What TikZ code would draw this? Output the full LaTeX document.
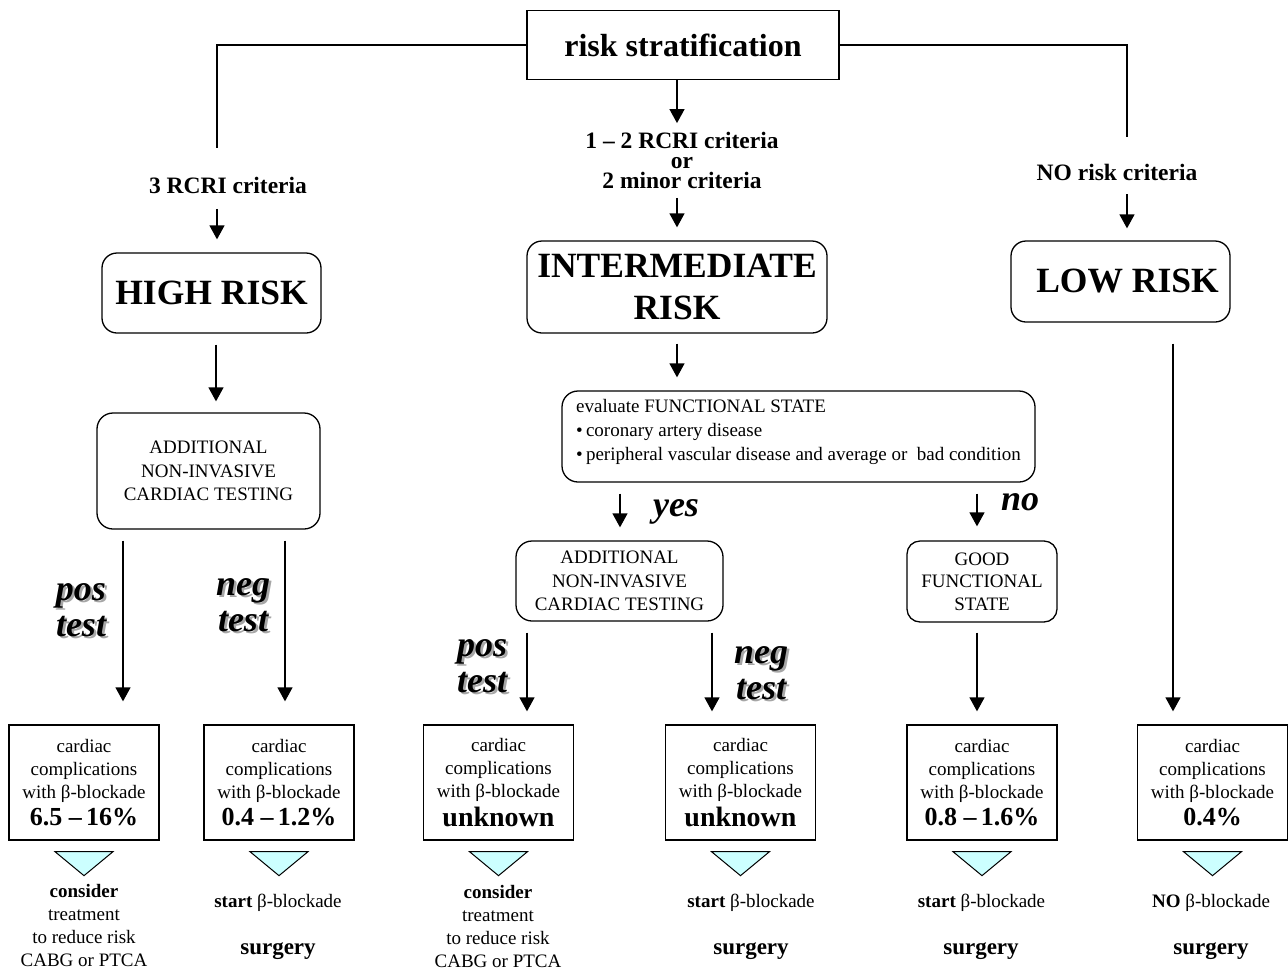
\documentclass[tikz,border=0pt]{standalone}
\usepackage{fontspec}
\setmainfont{Liberation Serif}
\usepackage{tikz}
\usetikzlibrary{arrows.meta,positioning}
\definecolor{tricyan}{HTML}{CCFFFF}

\newcommand{\shtxt}[1]{\leavevmode\rlap{\kern2.5pt\raisebox{-2.5pt}{\textcolor{black!35}{#1}}}#1}
\newcommand{\compl}[1]{cardiac\\complications\\with β-blockade\\[4pt]{\fontsize{26}{28}\selectfont\bfseries #1}}

\begin{document}
\begin{tikzpicture}[x=1pt, y=-1pt, line width=1.3pt,
	txt/.style={font=\fontsize{19}{23}\selectfont, align=center, inner sep=0pt},
	crit/.style={font=\fontsize{23.5}{20}\selectfont\bfseries, align=center, inner sep=0pt},
	big/.style={draw, rounded corners=15pt, font=\fontsize{35.5}{42}\selectfont\bfseries, align=center},
	rbox/.style={draw, rounded corners=16pt, font=\fontsize{19}{23.5}\selectfont, align=center},
	res/.style={draw, minimum width=150pt, minimum height=115pt, font=\fontsize{19}{23}\selectfont, align=center, inner sep=0pt},
	lbl/.style={font=\fontsize{36}{36}\selectfont\bfseries\itshape, align=center, inner sep=0pt},
	surg/.style={font=\fontsize{23}{23}\selectfont\bfseries, inner sep=0pt},
	arr/.style={-{Triangle[width=15pt,length=14pt]}},
	tri/.style={draw, line width=1pt, fill=tricyan}]
	\useasboundingbox (0,0) rectangle (1288,970);

	\node[draw, minimum width=312pt, minimum height=69pt, font=\fontsize{32}{32}\selectfont\bfseries] (strat) at (683,45) {risk stratification};
	\coordinate (lend) at (217,148);
	\coordinate (rend) at (1127,137);
	\draw (strat.west) -| (lend);
	\draw (strat.east) -| (rend);

	\node[crit] (c3) at (228,185) {3 RCRI criteria};
	\node[crit] (c12) at (682,160) {1 – 2 RCRI criteria\\or\\2 minor criteria};
	\node[crit] (c0) at (1117,172) {NO risk criteria};

	\node[big, minimum width=219pt, minimum height=80pt] (high) at (211.5,293) {HIGH RISK};
	\node[big, minimum width=300pt, minimum height=92pt] (inter) at (677,287) {INTERMEDIATE\\RISK};
	\node[big, minimum width=219pt, minimum height=81pt] (low) at (1120.5,281.5) {\hspace*{14pt}LOW RISK};

	\node[rbox, minimum width=223pt, minimum height=116pt] (add1) at (208.5,471) {ADDITIONAL\\NON-INVASIVE\\CARDIAC TESTING};
	\node[rbox, minimum width=473pt, minimum height=91pt, align=left, text depth=14pt, font=\fontsize{19}{24}\selectfont] (eval) at (798.5,436.5)
		{evaluate FUNCTIONAL STATE\\•\,coronary artery disease\\•\,peripheral vascular disease and average or\ \ bad condition};
	\node[rbox, minimum width=207pt, minimum height=80pt] (add2) at (619.5,581) {ADDITIONAL\\NON-INVASIVE\\CARDIAC TESTING};
	\node[rbox, rounded corners=13pt, minimum width=150pt, minimum height=81pt, inner sep=2pt, font=\fontsize{19}{22.5}\selectfont] (good) at (982,581.5) {GOOD\\FUNCTIONAL\\STATE};

	% result boxes with their wedges
	\foreach \n/\x/\v in {1/84/{6.5 –\,16\%}, 2/279/{0.4 –\,1.2\%}, 3/498.5/{\fontsize{28}{28}\selectfont unknown}, 4/740.5/{\fontsize{28}{28}\selectfont unknown}, 5/982/{0.8 –\,1.6\%}, 6/1212.5/{0.4\%}} {
		\node[res] (res\n) at (\x,782.5) {\compl{\v}};
		\draw[tri] ([yshift=-11pt]res\n.south) ++(-29pt,0) -- ++(58pt,0) -- ++(-29pt,-24pt) -- cycle;
	}

	\node[txt] (act1) at (84,925) {\textbf{consider}\\treatment\\to reduce risk\\CABG or PTCA};
	\node[txt] (act2) at (278,903) {\textbf{start} β-blockade};
	\node[surg] (surg2) at (278,951) {surgery};
	\node[txt] (act3) at (498,926) {\textbf{consider}\\treatment\\to reduce risk\\CABG or PTCA};
	\node[txt] (act4) at (751,903) {\textbf{start} β-blockade};
	\node[surg] (surg4) at (751,951) {surgery};
	\node[txt] (act5) at (981.5,903) {\textbf{start} β-blockade};
	\node[surg] (surg5) at (981,951) {surgery};
	\node[txt] (act6) at (1211,903) {\textbf{NO} β-blockade};
	\node[surg] (surg6) at (1211,951) {surgery};

	\node[lbl] (pos1) at (81,611) {\shtxt{pos}\\\shtxt{test}};
	\node[lbl] (neg1) at (243,606) {\shtxt{neg}\\\shtxt{test}};
	\node[lbl] (pos2) at (482,667) {\shtxt{pos}\\\shtxt{test}};
	\node[lbl] (neg2) at (761,674) {\shtxt{neg}\\\shtxt{test}};
	\node[lbl] (yes) at (676,512) {yes};
	\node[lbl] (no) at (1020,502) {no};

	% arrows
	\draw[arr] ([xshift=-6pt]strat.south) -- ([xshift=-5pt,yshift=8pt]c12.north);
	\draw[arr] ([xshift=-5pt,yshift=-9pt]c12.south) -- ([yshift=13pt]inter.north);
	\draw[arr] ([xshift=-11pt,yshift=-15pt]c3.south) -- ([xshift=5.5pt,yshift=13pt]high.north);
	\draw[arr] ([xshift=10pt,yshift=-13.5pt]c0.south) -- ([xshift=6.5pt,yshift=12pt]low.north);
	\draw[arr] ([xshift=4.5pt,yshift=-11pt]high.south) -- ([xshift=7.5pt,yshift=11pt]add1.north);
	\draw[arr] ([yshift=-10pt]inter.south) -- ([xshift=-121.5pt,yshift=13pt]eval.north);
	\draw[arr] ([xshift=-178.5pt,yshift=-11pt]eval.south) -- ([xshift=0.5pt,yshift=13pt]add2.north);
	\draw[arr] ([xshift=178.5pt,yshift=-11pt]eval.south) -- ([xshift=-5pt,yshift=14pt]good.north);
	\draw[arr] ([xshift=-85.5pt,yshift=-11pt]add1.south) -- ([xshift=39pt,yshift=23pt]res1.north);
	\draw[arr] ([xshift=76.5pt,yshift=-11pt]add1.south) -- ([xshift=6pt,yshift=23pt]res2.north);
	\draw[arr] ([xshift=-92.5pt,yshift=-11pt]add2.south) -- ([xshift=28.5pt,yshift=13pt]res3.north);
	\draw[arr] ([xshift=92.5pt,yshift=-11pt]add2.south) -- ([xshift=-28.5pt,yshift=13pt]res4.north);
	\draw[arr] ([xshift=-5pt,yshift=-10pt]good.south) -- ([xshift=-5pt,yshift=13pt]res5.north);
	\draw[arr] ([xshift=52.5pt,yshift=-21pt]low.south) -- ([xshift=-39.5pt,yshift=13pt]res6.north);
\end{tikzpicture}
\end{document}
